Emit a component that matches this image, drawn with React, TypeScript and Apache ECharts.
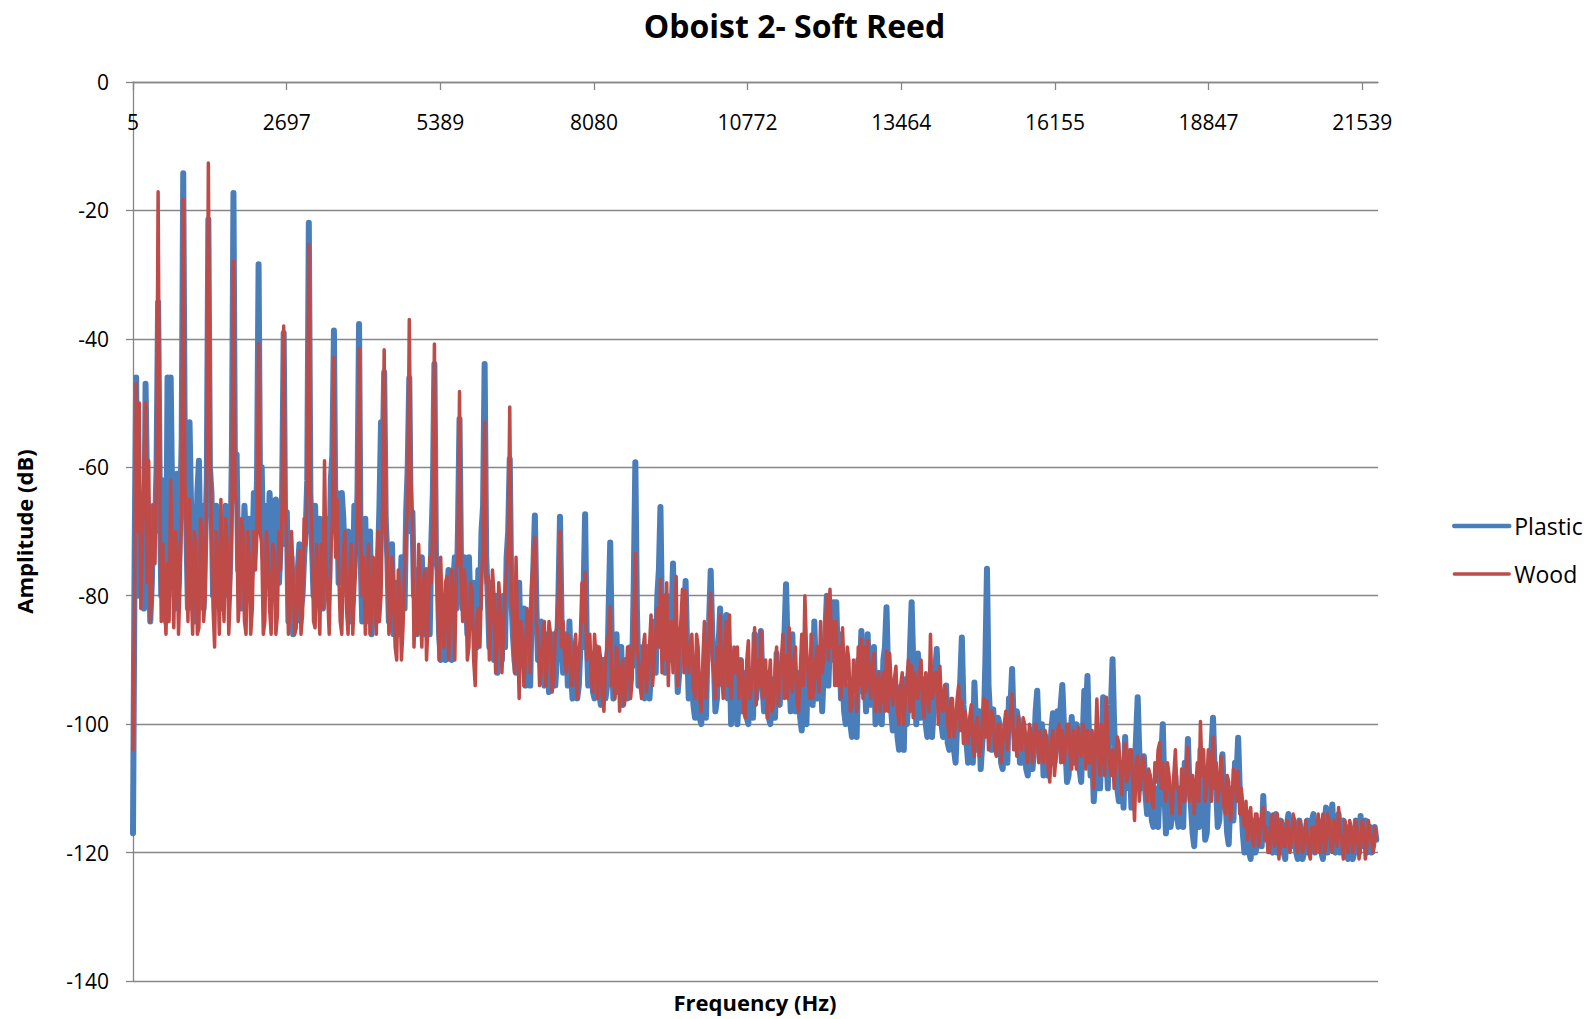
import React, { useEffect, useRef } from 'react';
import * as echarts from 'echarts';

const chartTitle = 'Oboist 2- Soft Reed';
const xAxisTitle = 'Frequency (Hz)';
const yAxisTitle = 'Amplitude (dB)';
const seriesNames = ['Plastic', 'Wood'];
const seriesColors = ['#4A7EBB', '#BE4B48'];
const xTickLabels = ['5', '2697', '5389', '8080', '10772', '13464', '16155', '18847', '21539'];
const binWidthHz = 44100 / 16384;
const binsPerLabel = 1000;
const sampleStepHz = 55;
const xMaxHz = 21810;
const yMin = -140;
const yMax = 0;
const yStep = 20;

// Samples every 55 Hz (offset from the 5 Hz first bin); one row per harmonic of the 440 Hz fundamental.
const plasticDb = [
  -117, -46, -70, -76, -47, -72, -78, -70,
  -34.3, -80, -62, -46, -46, -70, -61, -68,
  -14.2, -70, -53, -72, -75, -59, -66, -72,
  -21.4, -64, -78, -80, -72, -76, -68, -74,
  -17.3, -58, -70, -76, -72, -68, -75, -70,
  -28.4, -60, -66, -74, -69, -75, -70, -72,
  -39.1, -67, -80, -86, -84, -72, -80, -70,
  -21.9, -72, -66, -76, -72, -78, -68, -62,
  -38.7, -64, -72, -68, -78, -74, -80, -72,
  -37.7, -84, -68, -80, -86, -78, -75, -53,
  -45.2, -74, -80, -86, -78, -84, -76, -67,
  -46.1, -67, -76, -84, -74, -86, -78, -72,
  -43.9, -76, -90, -84, -80, -86, -78, -82,
  -52.5, -82, -78, -74, -85, -80, -76, -70,
  -43.9, -80, -78, -90, -92, -84, -80, -74,
  -58.7, -86, -92, -78, -88, -94, -86, -82,
  -67.5, -90, -84, -94, -88, -92, -86, -90,
  -67.7, -92, -86, -84, -96, -90, -94, -88,
  -67.3, -94, -89, -96, -92, -97, -90, -94,
  -71.7, -96, -86, -92, -97, -90, -95, -91,
  -59.2, -94, -90, -96, -88, -92, -84, -80,
  -66.2, -84, -80, -90, -75, -86, -92, -84,
  -77.7, -96, -90, -99, -94, -100, -93, -88,
  -76.1, -90, -96, -82, -94, -83, -88, -96,
  -90, -95, -98, -92, -100, -94, -86, -92,
  -85.5, -98, -92, -100, -95, -89, -97, -92,
  -78.2, -92, -86, -98, -93, -101, -95, -90,
  -90, -84, -96, -88, -92, -80, -86, -81,
  -81, -86, -92, -100, -95, -102, -96, -90,
  -85.5, -92, -86, -97, -88, -99, -94, -90,
  -81.8, -96, -101, -94, -104, -98, -93, -96,
  -81, -94, -89, -99, -93, -102, -92, -98,
  -88.3, -97, -102, -94, -104, -99, -106, -98,
  -86.5, -100, -106, -102, -93.5, -104, -107, -100,
  -75.8, -99, -97.7, -104, -100, -107, -101, -96,
  -91.4, -103, -99.7, -106, -102, -108, -101, -104,
  -94.8, -104, -108, -103, -106, -98.3, -104, -101,
  -93.9, -104, -108, -98.9, -106, -102, -109, -94.8,
  -92.5, -108, -112, -103, -110, -95.8, -104, -100,
  -89.9, -106, -112, -108, -102, -110, -113, -107,
  -95.8, -110, -105, -114, -109, -116, -112, -110,
  -100, -117, -110, -114, -108, -116, -111, -106,
  -102.3, -113, -119, -110, -104, -112, -117, -108,
  -99, -110, -115, -104.7, -112, -118.7, -110, -106,
  -102.1, -112, -120, -114, -121, -116, -119, -115,
  -111.2, -118, -115, -120, -114, -119, -116, -121,
  -114, -119, -116, -121, -117, -120, -115, -118,
  -114, -119, -116, -121, -113, -118, -112.5, -120,
  -114, -119, -116, -121, -117, -120, -116, -114.3,
  -117, -120, -116, -119, -118,
];

// Values read half-way between the samples above (27.5 Hz after each one).
const plasticMidDb = [
  -75, -80, -66, -82, -64, -84, -66, -60,
  -62, -68, -84, -60, -66, -82, -78, -56,
  -58, -82, -66, -84, -64, -74, -82, -62,
  -60, -80, -66, -70, -82, -66, -80, -58,
  -64, -76, -82, -66, -80, -78, -64, -62,
  -66, -74, -78, -64, -80, -65, -78, -64,
  -72, -84, -74, -80, -76, -82, -74, -62,
  -64, -80, -76, -68, -82, -70, -78, -58,
  -70, -78, -64, -76, -70, -84, -66, -64,
  -74, -76, -84, -70, -80, -84, -66, -60,
  -68, -84, -72, -80, -86, -74, -82, -60,
  -70, -80, -86, -76, -84, -76, -86, -64,
  -74, -86, -80, -90, -76, -90, -74, -70,
  -76, -74, -86, -82, -78, -88, -82, -66,
  -74, -88, -84, -80, -86, -90, -88, -70,
  -80, -90, -84, -90, -82, -88, -94, -76,
  -82, -86, -92, -86, -95, -87, -94, -80,
  -84, -88, -94, -92, -88, -96, -88, -80,
  -86, -90, -95, -88, -95, -90, -96, -82,
  -88, -92, -95, -88, -92, -96, -88, -78,
  -82, -88, -95, -90, -96, -88, -92, -76,
  -84, -92, -86, -84, -88, -95, -86, -88,
  -88, -92, -97, -92, -99, -94, -99, -84,
  -86, -98, -88, -92, -88, -96, -100, -92,
  -100, -90, -94, -99, -93, -99, -96, -88,
  -94, -94, -99, -93, -99, -96, -91, -86,
  -88, -98, -94, -92, -99, -94, -100, -94,
  -97, -92, -90, -98, -86, -94, -90, -88,
  -90, -96, -98, -94, -100, -96, -102, -92,
  -95, -98, -94, -92, -100, -92, -100, -88,
  -92, -98, -96, -102, -96, -104, -100, -88,
  -90, -100, -95, -96, -100, -96, -102, -92,
  -96, -100, -98, -103, -98, -104, -100, -93,
  -97, -103, -100, -106, -100, -98, -103, -90,
  -94, -104, -103, -99, -106, -102, -106, -97,
  -100, -98, -106, -101, -107, -102, -107, -98,
  -102, -100, -105, -108, -101, -106, -98, -97,
  -100, -109, -103, -105, -100, -107, -102, -99,
  -102, -104, -108, -110, -104, -101, -110, -97,
  -100, -110, -106, -113, -108, -106, -108, -102,
  -104, -106, -111, -108, -115, -110, -116, -105,
  -110, -112, -116, -110, -114, -110, -116, -110,
  -110, -117, -114, -116, -110, -118, -110, -104,
  -107, -116, -110, -112, -117, -112, -115, -108,
  -110, -117, -115, -120, -115, -120, -115, -119,
  -117, -114, -119, -116, -120, -115, -120, -116,
  -119, -115, -120, -115, -121, -117, -120, -115,
  -120, -115, -120, -116, -120, -115, -119, -116,
  -120, -115, -120, -116, -121, -115, -120, -119,
  -115, -118, -120, -116,
];

const woodDb = [
  -104, -47, -50, -72, -50, -59, -80, -75,
  -17.1, -84, -80, -75, -62, -85, -72, -78,
  -18.3, -70, -65, -86, -72, -85, -70, -80,
  -12.6, -70, -88, -76, -65, -84, -72, -80,
  -27.9, -66, -80, -70, -86, -74, -82, -76,
  -40.7, -72, -84, -74, -86, -73, -83, -76,
  -38, -72, -82, -77, -85, -73, -83, -72,
  -25.3, -70, -85, -78, -72, -59, -80, -74,
  -42.9, -65, -84, -74, -82, -77, -86, -75,
  -41.5, -80, -86, -72, -83, -76, -70, -80,
  -41.7, -74, -84, -78, -90, -80, -85, -70,
  -37, -68, -80, -72, -88, -76, -84, -78,
  -40.8, -80, -74, -88, -77, -84, -80, -76,
  -48.2, -84, -79, -88, -80, -94, -82, -78,
  -53, -77, -84, -80, -88, -82, -86, -76,
  -50.6, -84, -74, -96, -86, -90, -84, -78,
  -70.9, -86, -92, -84, -90, -86, -93, -85,
  -70, -84, -92, -87, -94, -86, -90, -78,
  -76.4, -88, -93, -86, -96, -90, -98, -88,
  -81.7, -92, -88, -98, -90, -95, -88, -93,
  -73.4, -90, -96, -86, -92, -83, -90, -82,
  -77.4, -80, -78, -86, -92, -77, -88, -79,
  -79.2, -92, -86, -96, -88, -98, -84, -90,
  -79.6, -92, -88, -83, -96, -84, -83, -90,
  -92, -96, -90, -99, -87, -94, -85, -90,
  -85.5, -94, -99, -90, -97, -88, -93, -86,
  -89.4, -85, -95, -88, -98, -86, -80, -92,
  -86, -94, -88, -84, -90, -80, -79, -84,
  -84, -88, -85, -94, -90, -97, -92, -88,
  -86.8, -88, -87, -96, -89, -95, -98, -92,
  -88.6, -89, -97, -91, -100, -92, -96, -90,
  -90.9, -92, -96, -90, -99, -94, -86, -95,
  -92, -91, -98, -95, -102, -96, -100, -94,
  -96.4, -98, -103, -97, -105, -99, -104, -96,
  -96.4, -101, -99, -105, -100, -103, -98, -101,
  -95.3, -101, -98.7, -104, -100, -106, -101, -103,
  -102, -101, -106, -102, -109, -101, -105, -100,
  -101, -104, -100, -107, -102, -100.4, -105, -101,
  -101, -106, -110, -96.1, -108, -104, -95.8, -106,
  -104, -106, -103, -111, -103, -108, -104, -115,
  -105, -109, -106, -112, -108, -113, -109, -102.9,
  -106, -112, -108, -114, -104, -110, -107, -112,
  -103.6, -110, -114, -106, -99.6, -104, -110, -106,
  -102, -106, -110, -108, -114, -109, -113, -108,
  -107.3, -110, -116, -118, -113, -119, -114, -117,
  -113, -116, -120, -114, -118, -121, -115, -119,
  -116, -118, -115, -120, -116, -119, -117, -121,
  -116, -117, -120, -114, -119, -115, -120, -116,
  -113, -118, -115, -120, -116, -119, -117, -119,
  -116, -119, -117, -120, -118,
];

const woodMidDb = [
  -80, -70, -82, -60, -78, -84, -66, -60,
  -60, -72, -86, -84, -74, -70, -86, -66,
  -62, -84, -78, -70, -86, -68, -84, -60,
  -55, -82, -70, -86, -78, -68, -86, -66,
  -64, -84, -68, -84, -70, -86, -70, -70,
  -70, -86, -70, -82, -72, -86, -70, -66,
  -66, -86, -70, -86, -76, -86, -68, -62,
  -64, -84, -72, -86, -82, -76, -86, -68,
  -74, -76, -86, -70, -86, -72, -80, -68,
  -70, -74, -80, -86, -74, -86, -84, -66,
  -70, -86, -74, -88, -76, -90, -76, -66,
  -62, -88, -86, -82, -78, -90, -74, -68,
  -72, -90, -84, -78, -90, -76, -90, -74,
  -76, -76, -90, -78, -90, -84, -88, -72,
  -78, -90, -76, -92, -78, -92, -80, -72,
  -80, -92, -86, -84, -94, -82, -92, -74,
  -84, -94, -86, -94, -84, -95, -86, -80,
  -88, -90, -86, -94, -88, -96, -86, -84,
  -90, -86, -95, -90, -88, -96, -90, -86,
  -94, -96, -90, -92, -97, -88, -96, -84,
  -88, -94, -88, -95, -88, -94, -86, -88,
  -92, -90, -94, -84, -86, -94, -84, -92,
  -90, -88, -94, -86, -96, -90, -96, -86,
  -90, -96, -94, -92, -88, -94, -96, -88,
  -88, -91, -98, -90, -96, -90, -97, -94,
  -96, -90, -94, -98, -92, -97, -90, -96,
  -96, -92, -90, -96, -92, -94, -88, -96,
  -96, -90, -95, -92, -86, -90, -88, -94,
  -94, -96, -92, -88, -98, -90, -98, -94,
  -96, -95, -92, -91, -98, -92, -94, -98,
  -98, -94, -93, -98, -94, -100, -93, -98,
  -99, -95, -92, -97, -92, -98, -96, -92,
  -100, -97, -94, -100, -96, -102, -96, -101,
  -103, -100, -99, -103, -100, -105, -100, -102,
  -104, -98, -104, -100, -106, -100, -104, -98,
  -104, -105, -102, -99, -104, -100, -106, -100,
  -106, -104, -101, -107, -103, -108, -101, -106,
  -106, -100, -105, -101, -107, -104, -100, -107,
  -106, -101, -104, -104, -100, -108, -102, -108,
  -110, -102, -108, -105, -109, -104, -110, -106,
  -112, -105, -110, -107, -112, -106, -104, -110,
  -110, -106, -112, -108, -110, -114, -112, -106,
  -112, -108, -110, -112, -108, -112, -104, -112,
  -110, -112, -105, -113, -108, -115, -107, -112,
  -114, -114, -112, -114, -118, -114, -119, -114,
  -118, -120, -115, -119, -114, -117, -119, -115,
  -120, -114, -119, -115, -120, -115, -120, -116,
  -120, -114, -116, -120, -114, -119, -115, -119,
  -117, -121, -117, -115, -120, -115, -121, -115,
  -121, -115, -118, -116,
];

const FONT = 'Open Sans';
const GRID_COLOR = '#868686';

function buildPoints(main: number[], mid: number[]) {
  const pts: number[][] = [];
  main.forEach((v, i) => {
    pts.push([i * sampleStepHz, v]);
    if (i < mid.length) pts.push([i * sampleStepHz + sampleStepHz / 2, mid[i]]);
  });
  return pts;
}

export default function App() {
  const ref = useRef<HTMLDivElement>(null);

  useEffect(() => {
    if (!ref.current) return;
    const chart = echarts.init(ref.current, undefined, { renderer: 'svg' });
    const labelStepHz = binsPerLabel * binWidthHz;
    const tickValues = xTickLabels.map((_, k) => k * labelStepHz);

    chart.setOption({
      animation: false,
      textStyle: { fontFamily: FONT },
      title: {
        text: chartTitle,
        left: 'center',
        top: 4,
        textStyle: { fontSize: 32, fontWeight: 'bold', fontFamily: FONT, color: '#000' },
      },
      grid: { left: 133, right: 211, top: 82, bottom: 38, containLabel: false },
      legend: {
        orient: 'vertical',
        left: 1452,
        top: 513,
        padding: 0,
        itemWidth: 55,
        itemHeight: 14,
        itemGap: 22,
        data: [
          { name: seriesNames[0], lineStyle: { width: 4.5, cap: 'round' } },
          { name: seriesNames[1], lineStyle: { width: 3.3, cap: 'round' } },
        ],
        itemStyle: { opacity: 0 },
        textStyle: { fontSize: 23, color: '#000', fontFamily: FONT, lineHeight: 26 },
      },
      xAxis: {
        type: 'value',
        position: 'top',
        min: 0,
        max: xMaxHz,
        axisLine: { show: true, onZero: false, lineStyle: { color: GRID_COLOR, width: 1.3 } },
        axisTick: { show: true, inside: true, length: 8, customValues: tickValues, lineStyle: { color: GRID_COLOR, width: 1.3 } },
        axisLabel: {
          show: true,
          inside: true,
          margin: 29,
          fontSize: 21,
          color: '#000',
          fontFamily: FONT,
          customValues: tickValues,
          formatter: (v: number) => {
            const k = Math.round(v / labelStepHz);
            if (Math.abs(v - k * labelStepHz) > 1) return '';
            return xTickLabels[k] ?? '';
          },
        },
        splitLine: { show: false },
      },
      yAxis: {
        type: 'value',
        min: yMin,
        max: yMax,
        interval: yStep,
        name: yAxisTitle,
        nameLocation: 'middle',
        nameGap: 98,
        nameTextStyle: { fontSize: 22, fontWeight: 'bold', fontFamily: FONT, color: '#000' },
        axisLine: { show: true, lineStyle: { color: GRID_COLOR, width: 1.3 } },
        axisTick: { show: true, length: 7, lineStyle: { color: GRID_COLOR, width: 1.3 } },
        axisLabel: { fontSize: 21, color: '#000', fontFamily: FONT, margin: 24 },
        splitLine: { show: true, lineStyle: { color: GRID_COLOR, width: 1.3 } },
      },
      graphic: [
        {
          type: 'text',
          x: 755,
          y: 1002,
          style: {
            text: xAxisTitle,
            align: 'center',
            verticalAlign: 'middle',
            fontSize: 22,
            fontWeight: 'bold',
            fontFamily: FONT,
            fill: '#000',
          },
        },
      ],
      series: [
        {
          name: seriesNames[0],
          type: 'line',
          data: buildPoints(plasticDb, plasticMidDb),
          symbol: 'none',
          color: seriesColors[0],
          lineStyle: { color: seriesColors[0], width: 6, cap: 'round', join: 'round' },
          z: 2,
        },
        {
          name: seriesNames[1],
          type: 'line',
          data: buildPoints(woodDb, woodMidDb),
          symbol: 'none',
          color: seriesColors[1],
          lineStyle: { color: seriesColors[1], width: 3.5, cap: 'round', join: 'round' },
          z: 3,
        },
      ],
    });
    return () => chart.dispose();
  }, []);

  return (
    <div
      ref={ref}
      style={{ position: 'absolute', left: 0, top: 0, width: '1589px', height: '1019px', background: '#fff' }}
    />
  );
}
